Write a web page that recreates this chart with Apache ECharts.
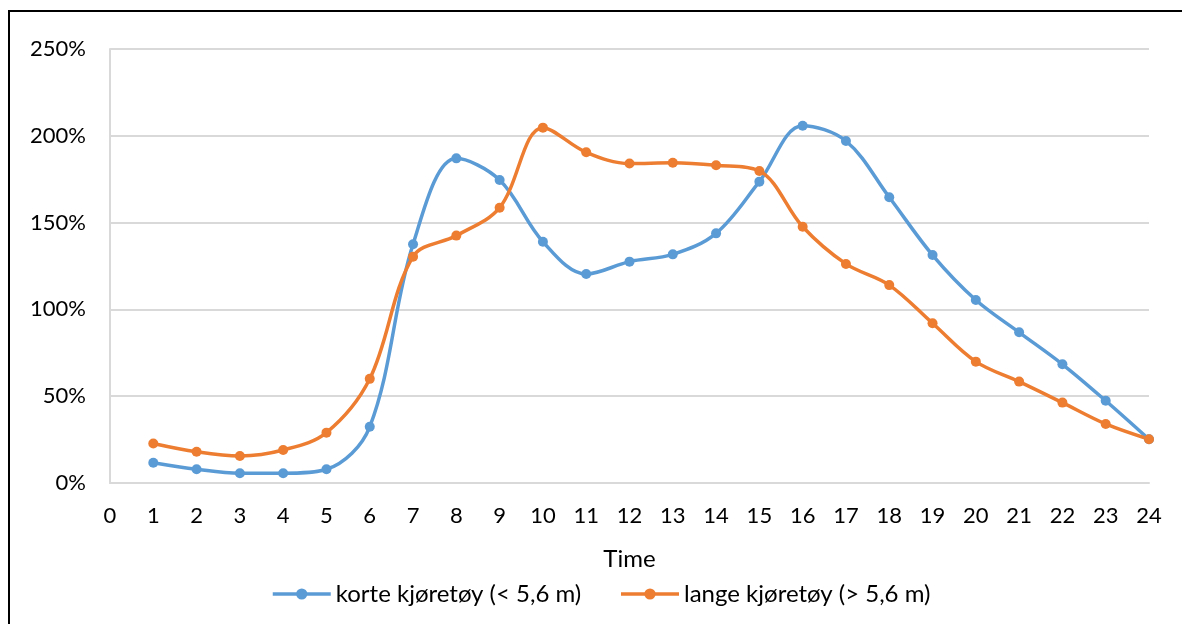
<!DOCTYPE html>
<html>
<head>
<meta charset="utf-8">
<script src="https://cdn.jsdelivr.net/npm/echarts@6/dist/echarts.min.js"></script>
<style>
html,body{margin:0;padding:0;background:#fff;}
#chart{width:1182px;height:624px;}
</style>
</head>
<body>
<div id="chart"></div>
<script>
const hours = [1,2,3,4,5,6,7,8,9,10,11,12,13,14,15,16,17,18,19,20,21,22,23,24];
const korte = [11.7,7.9,5.6,5.6,7.9,32.4,137.5,187,174.5,139,120.4,127.5,131.7,143.8,173.6,205.8,197,164.6,131.3,105.4,86.8,68.4,47.4,25.2];
const lange = [22.8,18,15.6,19,29,60,130.4,142.5,158.6,204.7,190.5,184,184.5,183,179.7,147.6,126.2,114,92,69.9,58.4,46.3,34,25.2];
const seriesNames = ['korte kjøretøy (< 5,6 m)', 'lange kjøretøy (> 5,6 m)'];
const xAxisName = 'Time';

const FONT = 'Lato, "Open Sans", sans-serif';
const chart = echarts.init(document.getElementById('chart'), null, {renderer:'canvas'});
function pairs(arr){ return arr.map((v,i)=>[hours[i], v]); }
chart.setOption({
  animation:false,
  backgroundColor:'#fff',
  textStyle:{fontFamily:FONT},
  graphic:[{type:'rect', shape:{x:9,y:11,width:1200,height:700}, style:{fill:'none', stroke:'#000', lineWidth:2}, silent:true}],
  grid:{left:110, right:33, top:49, bottom:141},
  legend:{
    left:266, top:577,
    itemWidth:58, itemHeight:14, itemGap:38,
    lineStyle:{width:3.5},
    textStyle:{fontFamily:FONT, fontSize:24, color:'#000'},
    data:seriesNames
  },
  xAxis:{
    type:'value', min:0, max:24, interval:1,
    name:xAxisName, nameLocation:'middle', nameGap:64,
    nameTextStyle:{fontFamily:FONT, fontSize:24, color:'#000'},
    axisLine:{show:true, lineStyle:{color:'#d9d9d9', width:2}},
    axisTick:{show:false},
    splitLine:{show:false},
    axisLabel:{fontFamily:FONT, fontSize:22, color:'#000', margin:22}
  },
  yAxis:{
    type:'value', min:0, max:250, interval:50,
    axisLine:{show:true, lineStyle:{color:'#d9d9d9', width:2}},
    axisTick:{show:false},
    splitLine:{show:true, lineStyle:{color:'#d9d9d9', width:2}},
    axisLabel:{fontFamily:FONT, fontSize:22, color:'#000', margin:24, formatter:'{value}%'}
  },
  series:[
    {name:seriesNames[0], type:'line', data:pairs(korte), smooth:0.35,
     symbol:'circle', symbolSize:10, lineStyle:{color:'#5B9BD5', width:3.5}, itemStyle:{color:'#5B9BD5'}},
    {name:seriesNames[1], type:'line', data:pairs(lange), smooth:0.35,
     symbol:'circle', symbolSize:10, lineStyle:{color:'#ED7D31', width:3.5}, itemStyle:{color:'#ED7D31'}}
  ]
});
</script>
</body>
</html>
